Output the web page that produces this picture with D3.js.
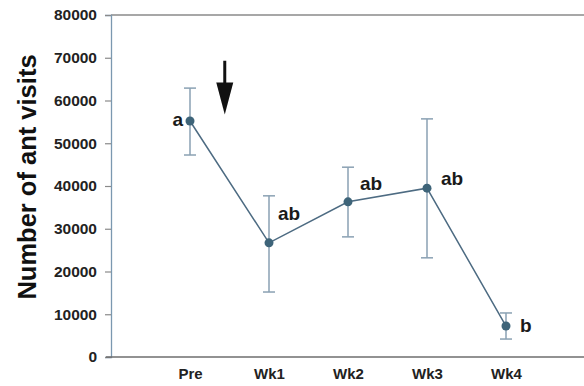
<!DOCTYPE html>
<html>
<head>
<meta charset="utf-8">
<script src="https://cdn.jsdelivr.net/npm/d3@7"></script>
<style>
    body { margin: 0; background: #fff; }
    text { font-family: "Liberation Sans", Arial, sans-serif; font-weight: bold; }
</style>
</head>
<body>
<div id="content"></div>
<script>
var categories = ["Pre", "Wk1", "Wk2", "Wk3", "Wk4"];
var means = [55200, 26700, 36300, 39500, 7250];
var upper = [62900, 37700, 44400, 55700, 10300];
var lower = [47250, 15200, 28100, 23200, 4200];
var letters = ["a", "ab", "ab", "ab", "b"];
var yTicks = [0, 10000, 20000, 30000, 40000, 50000, 60000, 70000, 80000];

var width = 584, height = 386;

var svg = d3.select("div#content").append("svg")
    .attr("width", width)
    .attr("height", height);

// categories sit at 1..5, axis runs 0..6
var x = d3.scaleLinear().domain([0, 6]).range([111, 585]);
var y = d3.scaleLinear().domain([0, 80000]).range([357, 15]);

// top frame line
svg.append("line")
    .attr("x1", x(0)).attr("x2", width)
    .attr("y1", y(80000)).attr("y2", y(80000))
    .attr("stroke", "#8a8a8a").attr("stroke-width", 1.5);

// y axis
var yAxis = svg.append("g")
    .attr("transform", "translate(" + x(0) + ",0)")
    .call(d3.axisLeft(y).tickValues(yTicks).tickSize(6).tickPadding(8).tickFormat(d3.format("d")));
yAxis.select(".domain").attr("stroke", "#7b98b0").attr("stroke-width", 1.3);
yAxis.selectAll(".tick line").attr("stroke", "#8a8a8a").attr("stroke-width", 1.2);
yAxis.selectAll(".tick text")
    .attr("fill", "#222")
    .style("font-size", "15.5px");

// x axis
var xAxis = svg.append("g")
    .attr("transform", "translate(0," + y(0) + ")")
    .call(d3.axisBottom(x).tickValues([1, 2, 3, 4, 5]).tickSize(0).tickPadding(11)
        .tickFormat(function(d) { return categories[d - 1]; }));
xAxis.select(".domain").remove();
xAxis.selectAll(".tick text")
    .attr("fill", "#222")
    .style("font-size", "15px");
svg.append("line")
    .attr("x1", 106).attr("x2", width)
    .attr("y1", y(0)).attr("y2", y(0))
    .attr("stroke", "#6e6e6e").attr("stroke-width", 1.6);

// y label
svg.append("text")
    .attr("transform", "translate(36,177) rotate(-90)")
    .attr("text-anchor", "middle")
    .attr("fill", "#111")
    .style("font-size", "25.5px")
    .text("Number of ant visits");

var data = categories.map(function(c, i) {
    return { i: i + 1, mean: means[i], hi: upper[i], lo: lower[i], letter: letters[i] };
});

// error bars
var eb = svg.selectAll(".err")
    .data(data)
    .enter().append("g")
    .attr("class", "err")
    .attr("stroke", "#8aa1b3")
    .attr("stroke-width", 1.5);
eb.append("line")
    .attr("x1", function(d) { return x(d.i); })
    .attr("x2", function(d) { return x(d.i); })
    .attr("y1", function(d) { return y(d.hi); })
    .attr("y2", function(d) { return y(d.lo); });
eb.append("line")
    .attr("x1", function(d) { return x(d.i) - 6; })
    .attr("x2", function(d) { return x(d.i) + 6; })
    .attr("y1", function(d) { return y(d.hi); })
    .attr("y2", function(d) { return y(d.hi); });
eb.append("line")
    .attr("x1", function(d) { return x(d.i) - 6; })
    .attr("x2", function(d) { return x(d.i) + 6; })
    .attr("y1", function(d) { return y(d.lo); })
    .attr("y2", function(d) { return y(d.lo); });

// mean line
svg.append("path")
    .datum(data)
    .attr("fill", "none")
    .attr("stroke", "#4d6b82")
    .attr("stroke-width", 1.5)
    .attr("d", d3.line()
        .x(function(d) { return x(d.i); })
        .y(function(d) { return y(d.mean); }));

svg.selectAll(".pt")
    .data(data)
    .enter().append("circle")
    .attr("class", "pt")
    .attr("cx", function(d) { return x(d.i); })
    .attr("cy", function(d) { return y(d.mean); })
    .attr("r", 4.5)
    .attr("fill", "#3e6479");

// significance letters
var letterPos = [
    { dx: -7, dy: 5, anchor: "end" },
    { dx: 9, dy: -23, anchor: "start" },
    { dx: 12, dy: -12, anchor: "start" },
    { dx: 14, dy: -3, anchor: "start" },
    { dx: 14, dy: 6, anchor: "start" }
];
svg.selectAll(".letter")
    .data(data)
    .enter().append("text")
    .attr("class", "letter")
    .attr("x", function(d, i) { return x(d.i) + letterPos[i].dx; })
    .attr("y", function(d, i) { return y(d.mean) + letterPos[i].dy; })
    .attr("text-anchor", function(d, i) { return letterPos[i].anchor; })
    .attr("fill", "#1a1a1a")
    .style("font-size", "19px")
    .text(function(d) { return d.letter; });

// treatment arrow between Pre and Wk1
var ax = x(1.44);
svg.append("line")
    .attr("x1", ax).attr("x2", ax)
    .attr("y1", y(69300)).attr("y2", y(63500))
    .attr("stroke", "#111").attr("stroke-width", 3);
svg.append("path")
    .attr("d", "M" + (ax - 8.5) + "," + y(64200) + "L" + (ax + 8.5) + "," + y(64200) + "L" + ax + "," + y(56700) + "Z")
    .attr("fill", "#111");
</script>
</body>
</html>
